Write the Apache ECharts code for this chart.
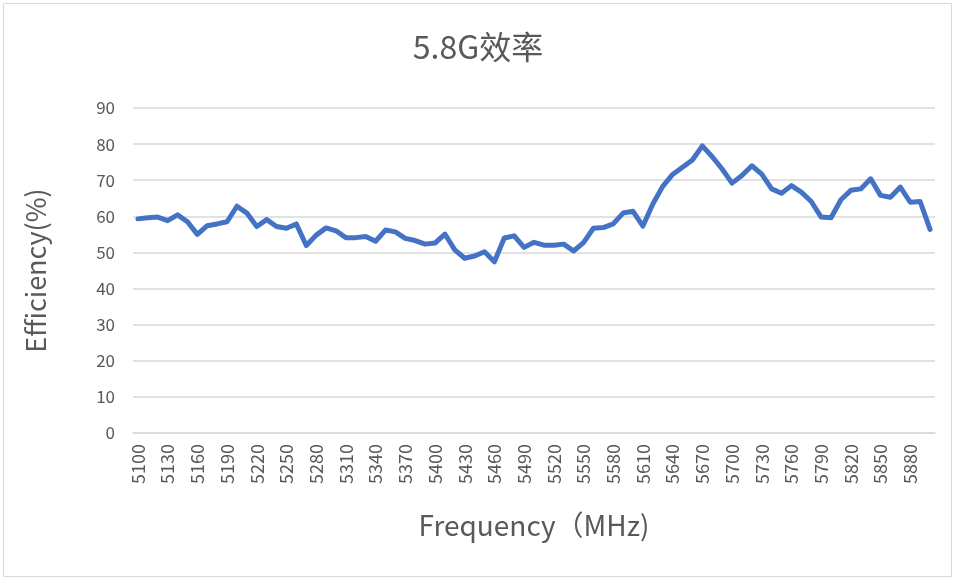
<!DOCTYPE html>
<html><head><meta charset="utf-8">
<script src="https://cdn.jsdelivr.net/npm/echarts@6/dist/echarts.min.js"></script>
<style>html,body{margin:0;padding:0;background:#fff}#c{width:956px;height:581px}</style>
</head><body><div id="c"></div>
<script>
var frequencies = [];
for (var f = 5100; f <= 5900; f += 10) frequencies.push(String(f));
var efficiency = [
59.3,59.6,59.8,58.8,60.4,58.5,55.0,57.4,57.9,58.5,
62.8,60.9,57.2,59.1,57.2,56.7,57.9,51.9,54.8,56.8,
56.0,54.1,54.1,54.4,53.1,56.2,55.7,53.9,53.3,52.3,
52.6,55.1,50.7,48.4,49.0,50.2,47.4,54.0,54.6,51.4,
52.8,52.0,52.0,52.3,50.4,52.7,56.7,56.9,57.9,60.9,
61.4,57.3,63.4,68.3,71.6,73.6,75.6,79.5,76.5,73.1,
69.2,71.3,74.0,71.7,67.6,66.4,68.5,66.7,64.1,59.8,
59.6,64.6,67.2,67.6,70.4,65.8,65.3,68.1,63.9,64.1,
56.4
];
var yTicks = [0,10,20,30,40,50,60,70,80,90];
var titleText = '5.8G效率';
var xName = 'Frequency（MHz)';
var yName = 'Efficiency(%)';

var chart = echarts.init(document.getElementById('c'), null, {renderer:'canvas'});
var txt = '#595959';
var ff = '"Noto Sans CJK SC","Noto Sans",sans-serif';
chart.setOption({
  animation:false,
  graphic:[{type:'rect',shape:{x:3.5,y:3.5,width:948,height:573},style:{fill:'none',stroke:'#d9d9d9',lineWidth:1}}],
  title:{text:titleText,left:'center',top:26,textStyle:{color:txt,fontSize:32,fontWeight:'normal',fontFamily:ff}},
  grid:{left:133,right:21,top:108,bottom:148,containLabel:false},
  xAxis:{type:'category',data:frequencies,boundaryGap:true,
    name:xName,nameLocation:'middle',nameGap:78,
    nameTextStyle:{color:txt,fontSize:28,fontFamily:ff},
    axisLine:{show:true,lineStyle:{color:'#d9d9d9',width:1.5}},
    axisTick:{show:false},
    axisLabel:{interval:2,rotate:90,color:txt,fontSize:18,fontFamily:ff,margin:11}},
  yAxis:{type:'value',min:yTicks[0],max:yTicks[yTicks.length-1],interval:10,
    name:yName,nameLocation:'middle',nameGap:84,
    nameTextStyle:{color:txt,fontSize:27,fontFamily:ff},
    axisLine:{show:false},axisTick:{show:false},
    splitLine:{lineStyle:{color:'#d9d9d9',width:1.5}},
    axisLabel:{color:txt,fontSize:17,fontFamily:ff,margin:18}},
  series:[{type:'line',data:efficiency,showSymbol:false,symbol:'none',
    lineStyle:{color:'#4472C4',width:5,join:'round',cap:'round'},itemStyle:{color:'#4472C4'}}]
});
</script></body></html>
